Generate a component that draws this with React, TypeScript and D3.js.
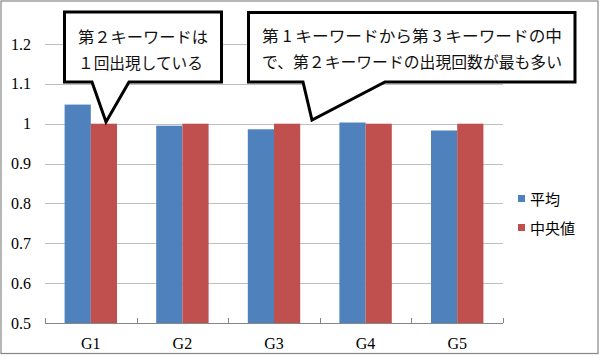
import React from "react";
import * as d3 from "d3";

const categories = ["G1", "G2", "G3", "G4", "G5"];
const meanValues = [1.048, 0.995, 0.986, 1.003, 0.983];
const medianValues = [1, 1, 1, 1, 1];
const seriesNames = ["平均", "中央値"];
const seriesColors = ["#4F81BD", "#C0504D"];
const yTicks = [0.5, 0.6, 0.7, 0.8, 0.9, 1, 1.1, 1.2];
const callout1Lines = ["第２キーワードは", "１回出現している"];
const callout2Lines = ["第 1 キーワードから第 3 キーワードの中", "で、第２キーワードの出現回数が最も多い"];

const W = 600, H = 356;
const plot = { left: 45, right: 503, top: 44, bottom: 323 };
const serif = "Liberation Serif, DejaVu Serif, serif";
const cjk = "Noto Sans CJK JP, sans-serif";

export default function App() {
  const x = d3.scaleBand<string>().domain(categories).range([plot.left, plot.right]).paddingInner(0.428).paddingOuter(0.214);
  const xs = d3.scaleBand<number>().domain([0, 1]).range([0, x.bandwidth()]);
  const y = d3.scaleLinear().domain([0.5, 1.2]).range([plot.bottom, plot.top]);
  const series = [meanValues, medianValues];
  const step = x.step();
  const tickXs = d3.range(categories.length + 1).map((i) => plot.left + i * step);

  const c1 = `M64.5,12 H221.5 V82 H129 L106,122 L92,82 H64.5 Z`;
  const c2 = `M248.5,12.5 H575 V82 H385 L312,120 L303,82 H248.5 Z`;

  return (
    <svg width={W} height={H} style={{ position: "absolute", left: 0, top: 0, background: "#fff" }}>
      <rect x={1} y={1} width={597} height={352.5} fill="#fff" stroke="#868686" strokeWidth={1.2} />
      {yTicks.map((t) => (
        <g key={t}>
          {t > 0.5 && (
            <line x1={plot.left} x2={plot.right} y1={Math.round(y(t)) + 0.5} y2={Math.round(y(t)) + 0.5} stroke="#BFBFBF" strokeWidth={1} />
          )}
          <text x={31} y={y(t)} textAnchor="end" dominantBaseline="central" style={{ fontFamily: serif, fontSize: "16px" }} fill="#000">
            {String(t)}
          </text>
        </g>
      ))}
      {categories.map((c, i) => (
        <g key={c}>
          {series.map((s, j) => (
            <rect key={j} x={(x(c) as number) + (xs(j) as number)} y={y(s[i])} width={xs.bandwidth()} height={plot.bottom - y(s[i])} fill={seriesColors[j]} />
          ))}
          <text x={(x(c) as number) + x.bandwidth() / 2} y={343} textAnchor="middle" dominantBaseline="central" style={{ fontFamily: serif, fontSize: "16px" }} fill="#000">
            {c}
          </text>
        </g>
      ))}
      <line x1={plot.left} x2={plot.right} y1={plot.bottom + 0.5} y2={plot.bottom + 0.5} stroke="#868686" strokeWidth={1} />
      {tickXs.map((tx, i) => (
        <line key={i} x1={Math.round(tx) + 0.5} x2={Math.round(tx) + 0.5} y1={plot.bottom - 5} y2={plot.bottom} stroke="#868686" strokeWidth={1} />
      ))}
      {seriesNames.map((n, j) => (
        <g key={n}>
          <rect x={518} y={195 + j * 29} width={7} height={7} fill={seriesColors[j]} />
          <text x={530} y={198.5 + j * 29} dominantBaseline="central" style={{ fontFamily: cjk, fontSize: "15px" }} fill="#000">
            {n}
          </text>
        </g>
      ))}
      <path d={c1} fill="#fff" stroke="#000" strokeWidth={3} strokeLinejoin="miter" />
      <path d={c2} fill="#fff" stroke="#000" strokeWidth={3} strokeLinejoin="miter" />
      {callout1Lines.map((l, i) => (
        <text key={i} x={78} y={35.5 + i * 26} dominantBaseline="central" style={{ fontFamily: cjk, fontSize: "15.5px" }} fill="#111" textLength={i === 0 ? 130 : 125} lengthAdjust="spacingAndGlyphs">
          {l}
        </text>
      ))}
      {callout2Lines.map((l, i) => (
        <text key={i} x={262} y={34.5 + i * 26.5} dominantBaseline="central" style={{ fontFamily: cjk, fontSize: "15.5px" }} fill="#111" textLength={300} lengthAdjust="spacingAndGlyphs">
          {l}
        </text>
      ))}
    </svg>
  );
}
